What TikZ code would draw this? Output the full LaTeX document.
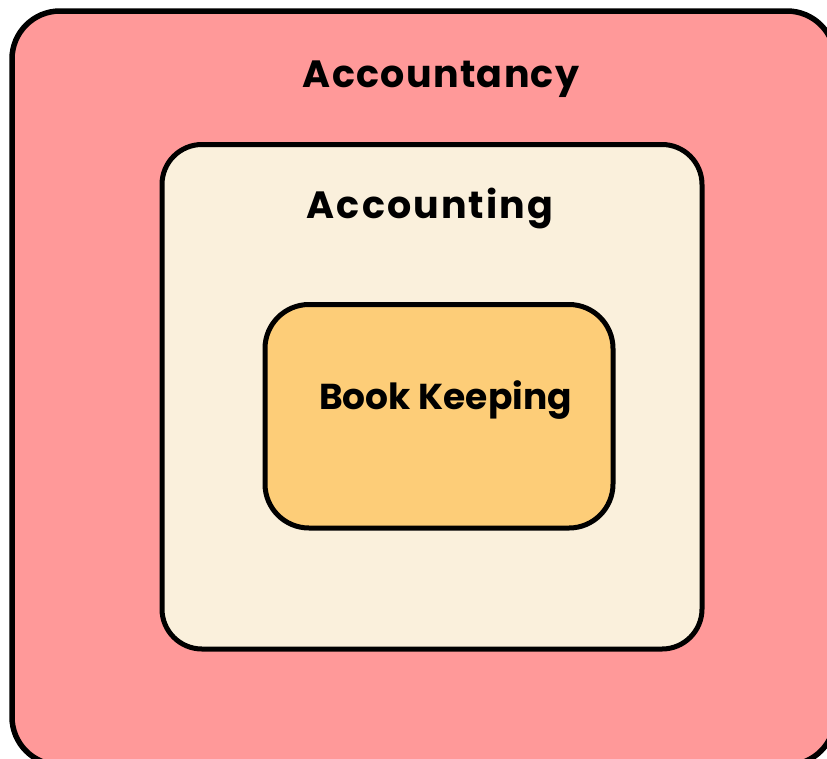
\documentclass[tikz,border=0pt]{standalone}
\usepackage{fontspec}
\setmainfont{Poppins}[BoldFont={* Bold}]
\definecolor{outerc}{HTML}{FF9999}
\definecolor{midc}{HTML}{FAF0DC}
\definecolor{innerc}{HTML}{FDCD78}
\tikzset{
  box/.style={draw=black, line width=5pt},
  lbl/.style={text=black, inner sep=0pt, anchor=base},
}
\begin{document}
\begin{tikzpicture}[x=1pt,y=-1pt]
\useasboundingbox (0,0) rectangle (827,758);
\clip (0,0) rectangle (827,758);
\draw[box, fill=outerc, line width=5.5pt, rounded corners=48pt] (12,11) rectangle (835,765);
\draw[box, fill=midc, rounded corners=40pt] (162,144.5) rectangle (702,649);
\draw[box, fill=innerc, rounded corners=44pt] (265,304.5) rectangle (613,528);
\node[lbl, font=\fontsize{38}{44}\bfseries\addfontfeatures{LetterSpace=3.5}] (t1) at (441,87) {Accountancy};
\node[lbl, font=\fontsize{38}{44}\bfseries\addfontfeatures{LetterSpace=5.5}] (t2) at (430,218) {Accounting};
\node[lbl, font=\fontsize{36}{42}\bfseries] (t3) at (445.5,409) {Book Keeping};
\end{tikzpicture}
\end{document}
